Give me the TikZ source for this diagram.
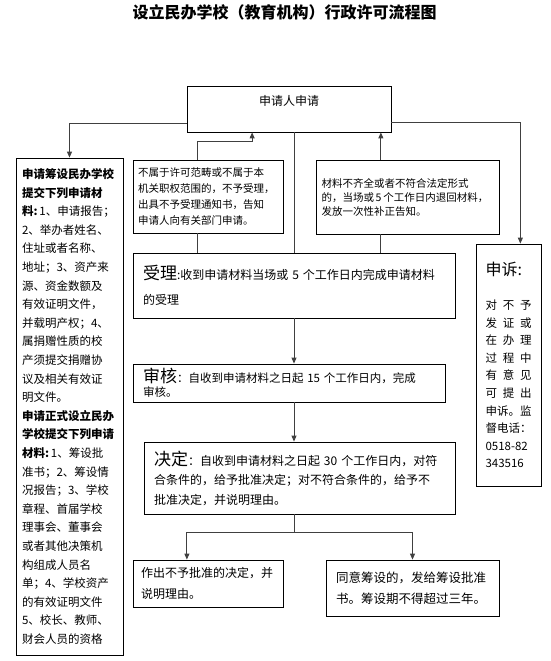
\documentclass[tikz,border=0pt]{standalone}
\usepackage{fontspec}
\setmainfont{Noto Sans CJK SC}
\usetikzlibrary{arrows.meta,calc}

\begin{document}
\begin{tikzpicture}[
    x=1pt, y=-1pt,
    box/.style={rectangle, draw, line width=0.8pt, align=left, inner ysep=2pt},
    arrow/.style={-{Triangle[length=6pt, width=5pt]}, line width=0.9pt, draw=black!75},
    link/.style={line width=0.9pt, draw=black!75},
    head/.style={font=\bfseries\fontsize{16}{18}\selectfont},
]
\useasboundingbox (0,0) rectangle (550,661);

% Title
\node[head] (title) at (284.5,12) {设立民办学校（教育机构）行政许可流程图};

% ====== Applicant ======
\node[box, align=center, minimum width=204, minimum height=46, font=\fontsize{12}{18}\selectfont] (apply) at (289,109) {申请人申请\\ \mbox{}};

% ====== Materials ======
\node[box, minimum width=107, minimum height=497, text width=95, inner xsep=6, font=\fontsize{11.5}{18.6}\selectfont] (materials) at (69.5,406.5) {%
\textbf{申请筹设民办学校}\\
\textbf{提交下列申请材}\\
\textbf{料:}\,1、申请报告；\\
2、举办者姓名、\\
住址或者名称、\\
地址；3、资产来\\
源、资金数额及\\
有效证明文件，\\
并载明产权；4、\\
属捐赠性质的校\\
产须提交捐赠协\\
议及相关有效证\\
明文件。\\
\textbf{申请正式设立民办}\\
\textbf{学校提交下列申请}\\
\textbf{材料:}\,1、筹设批\\
准书；2、筹设情\\
况报告；3、学校\\
章程、首届学校\\
理事会、董事会\\
或者其他决策机\\
构组成人员名\\
单；4、学校资产\\
的有效证明文件\\
5、校长、教师、\\
财会人员的资格};

% ====== Reject / Supplement ======
\node[box, minimum width=150, minimum height=73, text width=140, inner xsep=5, font=\fontsize{10.5}{16.3}\selectfont] (reject) at (208,196.5) {%
不属于许可范畴或不属于本\\
机关职权范围的，不予受理，\\
出具不予受理通知书，告知\\
申请人向有关部门申请。};
\node[box, minimum width=183, minimum height=74, text width=172, inner xsep=5.5, font=\fontsize{10.5}{14}\selectfont] (supplement) at (407.5,197) {%
材料不齐全或者不符合法定形式\\
的，当场或\,5\,个工作日内退回材料，\\
发放一次性补正告知。};

% ====== Appeal ======
\node[box, minimum width=65, minimum height=242, text width=46, inner xsep=9.5, font=\fontsize{11.5}{17.6}\selectfont] (appeal) at (508.5,365) {%
{\fontsize{16}{17.6}\selectfont 申诉:}\\[16.4pt]
\makebox[46pt][s]{对\hfill 不\hfill 予}\\
\makebox[46pt][s]{发\hfill 证\hfill 或}\\
\makebox[46pt][s]{在\hfill 办\hfill 理}\\
\makebox[46pt][s]{过\hfill 程\hfill 中}\\
\makebox[46pt][s]{有\hfill 意\hfill 见}\\
\makebox[46pt][s]{可\hfill 提\hfill 出}\\
申诉。监\\
督电话：\\
0518-82\\
343516};

% ====== Accept / Review / Decide ======
\node[box, minimum width=322, minimum height=65, text width=302, inner xsep=10, font=\fontsize{12}{25}\selectfont] (accept) at (294,285.5) {%
{\fontsize{17}{25}\selectfont 受理}:收到申请材料当场或~5~个工作日内完成申请材料\\
的受理};
\node[box, minimum width=312, minimum height=38, text width=292, inner xsep=10, font=\fontsize{11.5}{14}\selectfont] (review) at (289,383) {%
{\fontsize{17}{14}\selectfont 审核}：自收到申请材料之日起~15~个工作日内，完成\\
审核。};
\node[box, minimum width=311, minimum height=72, text width=291, inner xsep=10, font=\fontsize{12}{19.5}\selectfont] (decide) at (299.5,478) {%
{\fontsize{17}{19.5}\selectfont 决定}：自收到申请材料之日起~30~个工作日内，对符\\
合条件的，给予批准决定；对不符合条件的，给予不\\
批准决定，并说明理由。};

% ====== Outcomes ======
\node[box, minimum width=150, minimum height=47, text width=134, inner xsep=8, font=\fontsize{12}{21}\selectfont] (deny) at (208,583.5) {%
作出不予批准的决定，并\\
说明理由。};
\node[box, minimum width=173, minimum height=56, text width=153, inner xsep=10, font=\fontsize{12.5}{21}\selectfont] (approve) at (412.5,588) {%
同意筹设的，发给筹设批准\\
书。筹设期不得超过三年。};

% ====== Connectors ======
\coordinate (apply-l) at ($(apply.south west)!0.2!(apply.north west)$);
\coordinate (apply-r) at ($(apply.south east)!0.22!(apply.north east)$);
\coordinate (apply-b) at ($(apply.south west)!0.32!(apply.south east)$);
\coordinate (reject-t) at ($(reject.north west)!0.433!(reject.north east)$);
\coordinate (supp-t) at ($(supplement.north west)!0.355!(supplement.north east)$);
\coordinate (fork) at ($(accept.south |- decide.south)+(0,18)$);

\draw[arrow] (apply-l) -| (materials.north);
\draw[arrow] (apply-r) -| ($(appeal.north west)!0.68!(appeal.north east)$);
\draw[arrow] (reject-t) -- ++(0,-18) -| (apply-b);
\draw[arrow] (supp-t) -- (supp-t |- apply.south);
\draw[link] (reject.south -| reject-t) -- (reject-t |- accept.north);
\draw[link] (supplement.south -| supp-t) -- (supp-t |- accept.north);
\draw[link] (apply.south -| accept.north) -- (accept.north);
\draw[arrow] (accept.south) -- (accept.south |- review.north);
\draw[arrow] (accept.south |- review.south) -- (accept.south |- decide.north);
\draw[link] (accept.south |- decide.south) -- (fork);
\draw[arrow] (fork) -| ($(deny.north west)!0.36!(deny.north east)$);
\draw[arrow] (fork) -| (approve.north);

\end{tikzpicture}
\end{document}
